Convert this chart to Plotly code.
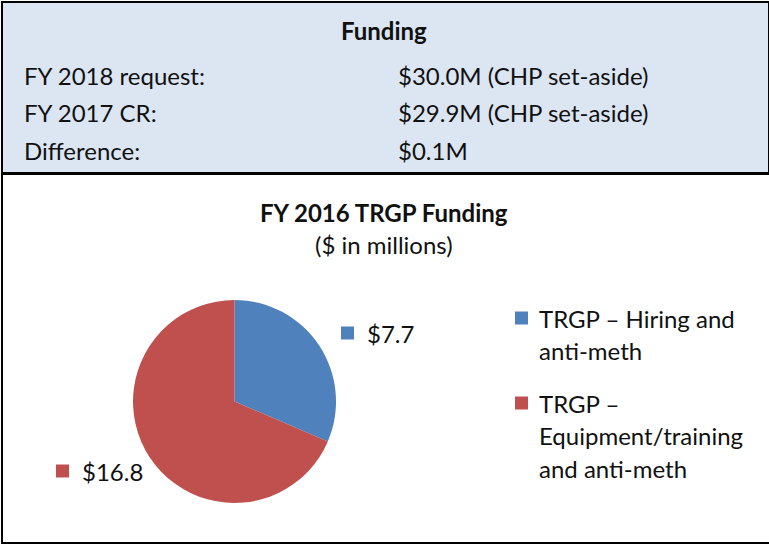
import plotly.graph_objects as go

# data
table_title = "Funding"
row_labels = ["FY 2018 request:", "FY 2017 CR:", "Difference:"]
row_values = ["$30.0M (CHP set-aside)", "$29.9M (CHP set-aside)", "$0.1M"]

chart_title = "FY 2016 TRGP Funding"
chart_subtitle = "($ in millions)"
slice_labels = ["TRGP – Hiring and<br>anti-meth", "TRGP –<br>Equipment/training<br>and anti-meth"]
slice_values = [7.7, 16.8]
slice_colors = ["#4F81BD", "#C0504D"]

W, H = 769, 545
FONT = "Lato"
FS = 24


def px(x):
    return x / W


def py(y):
    return 1 - y / H


fig = go.Figure()

# pie
fig.add_trace(go.Pie(
    values=slice_values,
    labels=[l.replace("<br>", " ") for l in slice_labels],
    marker=dict(colors=slice_colors, line=dict(width=0)),
    sort=False,
    direction="clockwise",
    rotation=0,
    textinfo="none",
    hoverinfo="skip",
    showlegend=False,
    domain=dict(x=[px(133), px(336)], y=[py(503), py(300)]),
))

shapes = []
annotations = []

# boxes
shapes.append(dict(type="rect", xref="paper", yref="paper",
                   x0=px(2), x1=px(769), y0=py(173), y1=py(2),
                   fillcolor="#DCE6F2", line=dict(color="black", width=2), layer="below"))
shapes.append(dict(type="rect", xref="paper", yref="paper",
                   x0=px(2), x1=px(772), y0=py(543), y1=py(174),
                   fillcolor="white", line=dict(color="black", width=2), layer="below"))


def text(x, y, s, size=FS, xanchor="left", bold=False):
    if bold:
        s = "<b>" + s + "</b>"
    annotations.append(dict(x=px(x), y=py(y), xref="paper", yref="paper", text=s,
                            showarrow=False, xanchor=xanchor, yanchor="middle",
                            font=dict(family=FONT, size=size, color="#111111")))


# table
text(384, 30, table_title, xanchor="center", bold=True)
for i, (lab, val) in enumerate(zip(row_labels, row_values)):
    y = [75, 112, 150][i]
    text(22, y, lab)
    text(396, y, val)

# chart titles
text(384, 213, chart_title, xanchor="center", bold=True)
text(384, 245, chart_subtitle, xanchor="center")


def square(x, y, color):
    shapes.append(dict(type="rect", xref="paper", yref="paper",
                       x0=px(x), x1=px(x + 13), y0=py(y + 6.5), y1=py(y - 6.5),
                       fillcolor=color, line=dict(width=0)))


# data labels
label_pos = [(341, 333), (56, 471)]
for (x, y), v, c in zip(label_pos, slice_values, slice_colors):
    square(x, y, c)
    text(x + 24, y, f"${v}")

# legend
legend_top = [318, 403]
for y0, lab, c in zip(legend_top, slice_labels, slice_colors):
    square(515, y0, c)
    for j, line in enumerate(lab.split("<br>")):
        text(537, y0 + j * 32.5, line)

fig.update_layout(
    width=W, height=H,
    margin=dict(l=0, r=0, t=0, b=0),
    paper_bgcolor="white",
    plot_bgcolor="white",
    shapes=shapes,
    annotations=annotations,
)

fig.write_html("out.html", config={"displayModeBar": False},
               post_script="document.body.style.margin='0';")
